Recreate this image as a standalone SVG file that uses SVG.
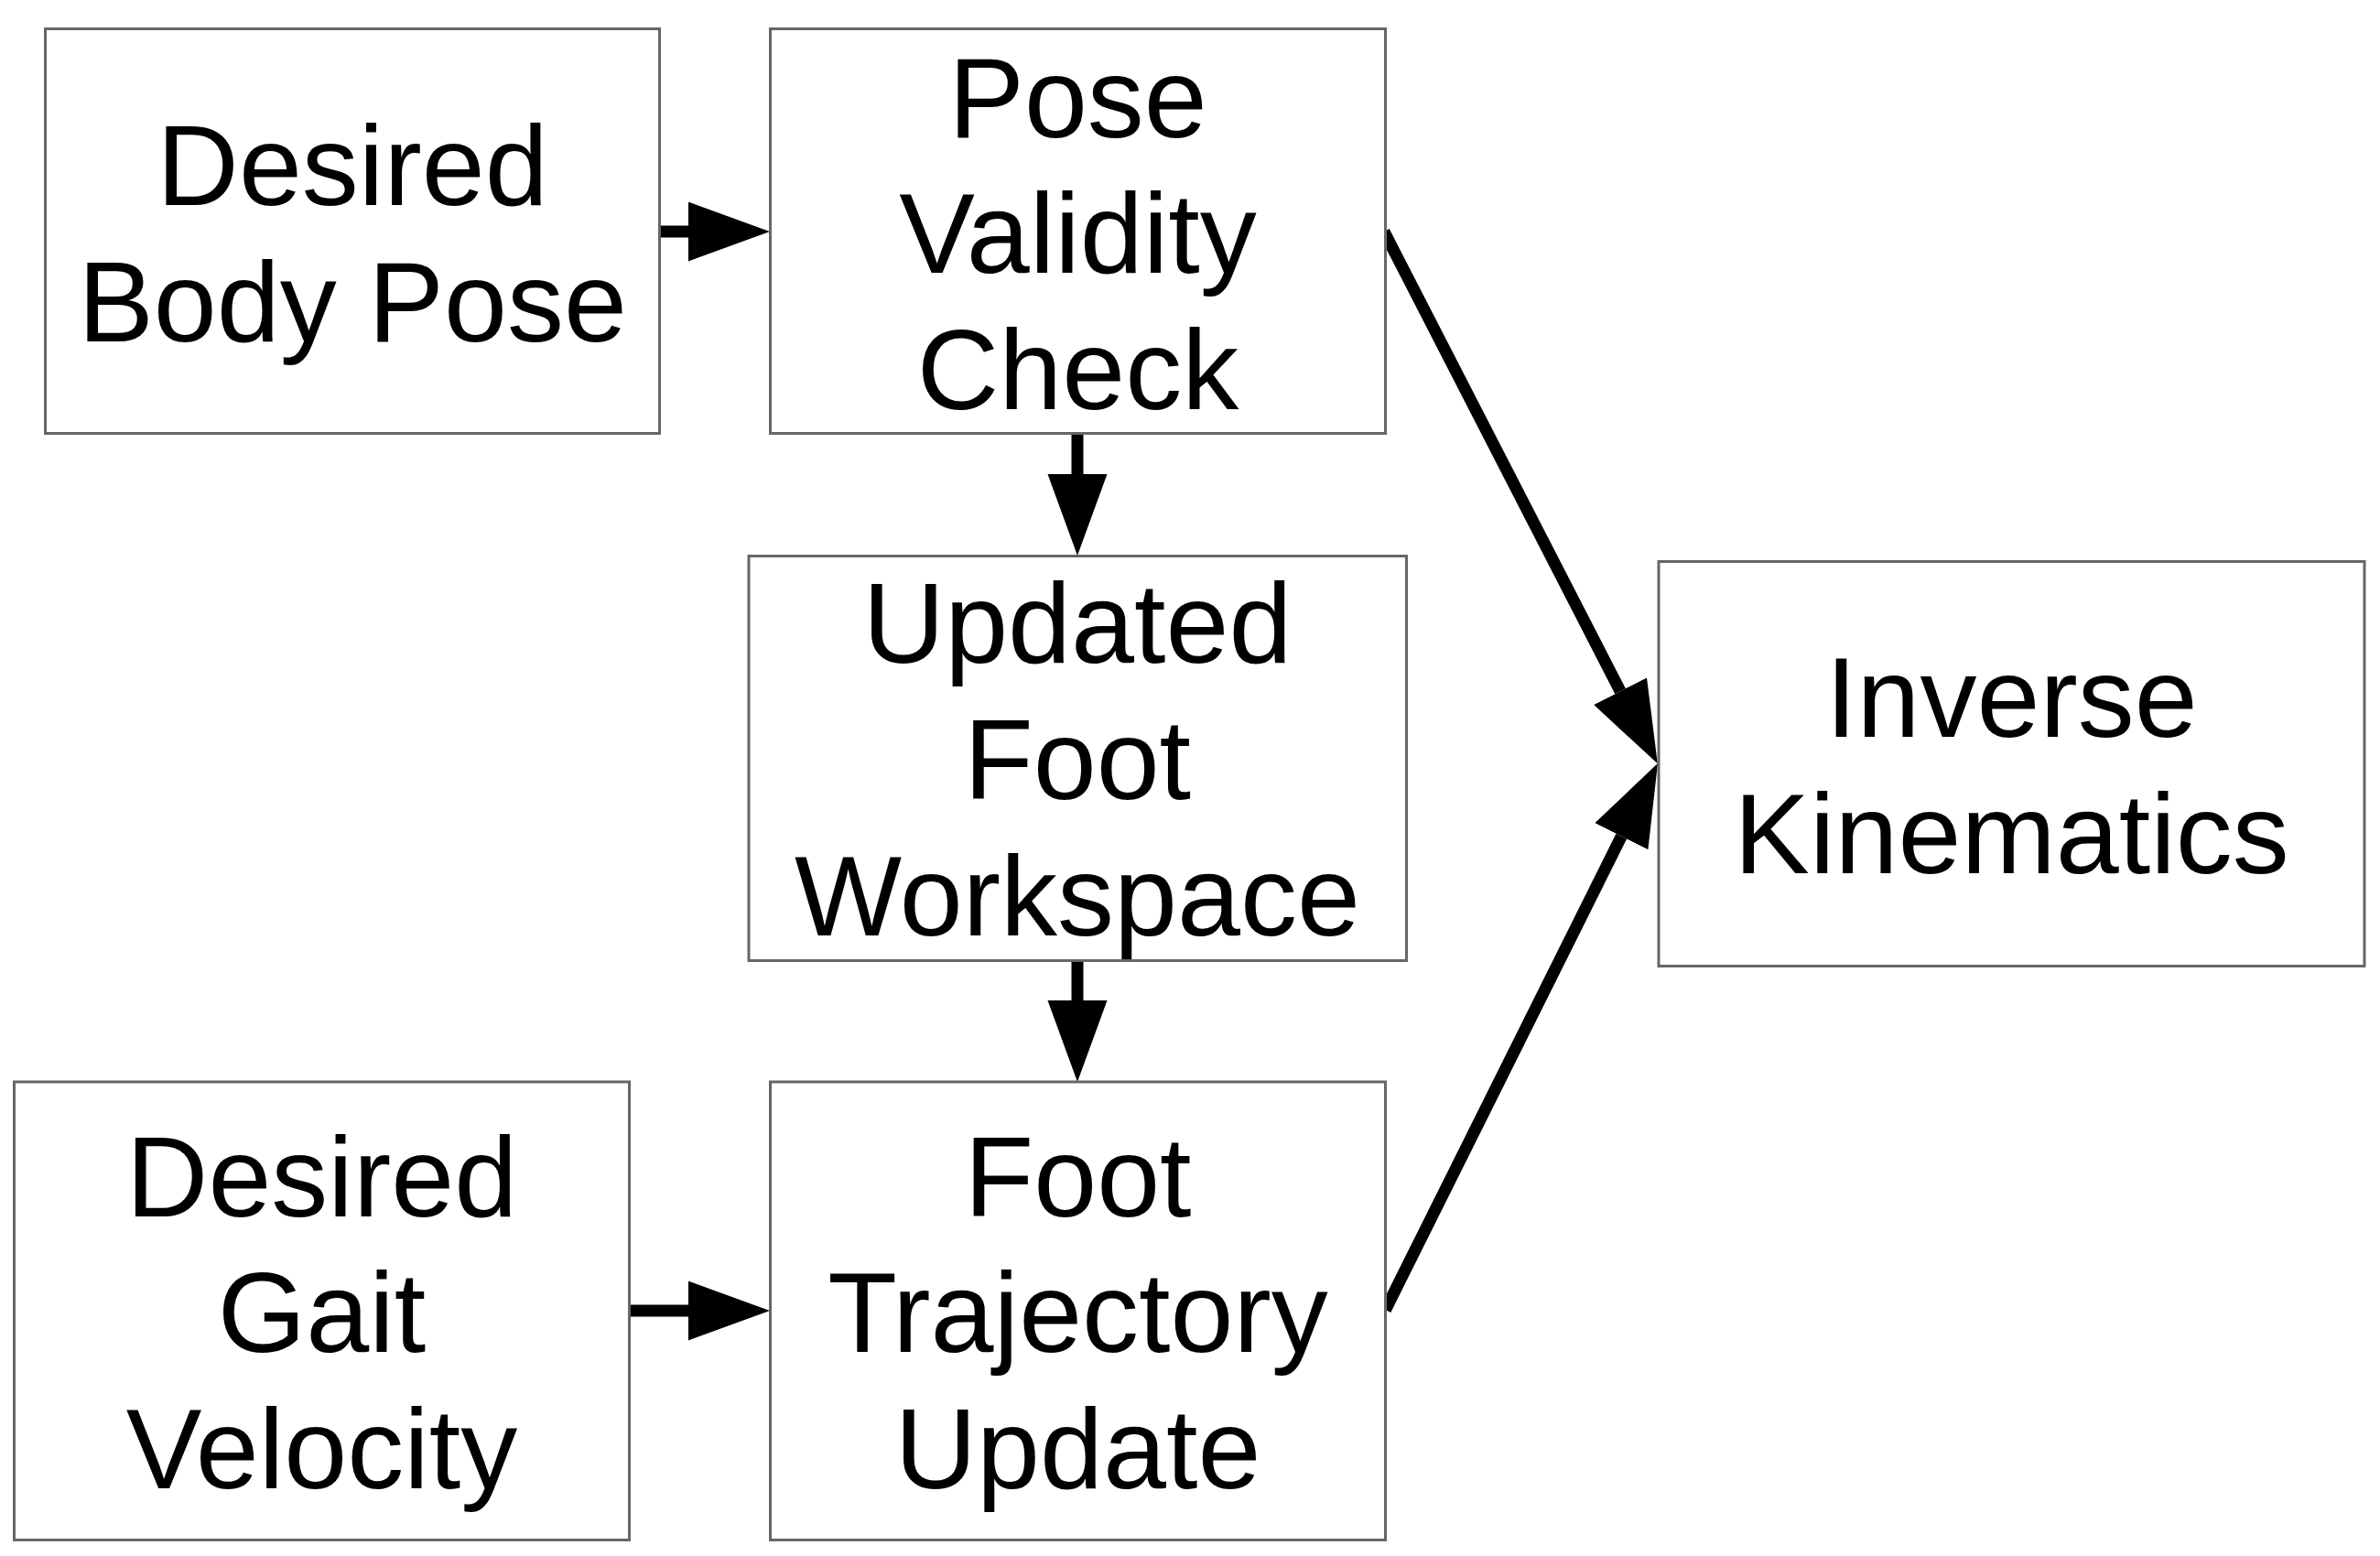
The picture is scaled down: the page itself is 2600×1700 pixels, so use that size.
<svg xmlns="http://www.w3.org/2000/svg" width="2600" height="1700" viewBox="0 0 2600 1700">
<style>
.box{fill:#fff;stroke:#666;stroke-width:3}
.lbl{font-family:"Liberation Sans",Arial,sans-serif;font-size:124px;fill:#000;text-anchor:middle}
.edge{stroke:#000;stroke-width:13;fill:none;marker-end:url(#ah)}
</style>
<defs>
<marker id="ah" markerUnits="userSpaceOnUse" markerWidth="90" markerHeight="66" refX="0" refY="32.5" orient="auto" viewBox="0 0 90 66">
<path d="M0,0 L89,32.5 L0,65 Z" fill="#000"/>
</marker>
</defs>
<rect width="2600" height="1700" fill="#fff"/>
<g id="connectors">
<line class="edge" x1="720" y1="253" x2="752" y2="253"/>
<line class="edge" x1="1177" y1="473" x2="1177" y2="518"/>
<line class="edge" x1="1177" y1="1050" x2="1177" y2="1093"/>
<line class="edge" x1="687" y1="1432" x2="752" y2="1432"/>
<line class="edge" x1="1512" y1="253" x2="1770.1" y2="755.2"/>
<line class="edge" x1="1513.5" y1="1431" x2="1771.3" y2="913.7"/>
</g>
<g id="desired-body-pose">
<rect class="box" x="49.5" y="31.5" width="671" height="442"/>
<text class="lbl" x="385" y="224">Desired</text>
<text class="lbl" x="385" y="372.7">Body Pose</text>
</g>
<g id="pose-validity-check">
<rect class="box" x="841.5" y="31.5" width="672" height="442"/>
<text class="lbl" x="1177.5" y="150">Pose</text>
<text class="lbl" x="1177.5" y="297.7">Validity</text>
<text class="lbl" x="1177.5" y="446.7">Check</text>
</g>
<g id="updated-foot-workspace">
<rect class="box" x="818" y="607.5" width="718.5" height="442"/>
<text class="lbl" x="1177" y="724.4">Updated</text>
<text class="lbl" x="1177" y="873">Foot</text>
<text class="lbl" x="1177" y="1021.7">Workspace</text>
</g>
<g id="inverse-kinematics">
<rect class="box" x="1812" y="613.5" width="771" height="442"/>
<text class="lbl" x="2197.5" y="804.6">Inverse</text>
<text class="lbl" x="2197.5" y="954">Kinematics</text>
</g>
<g id="desired-gait-velocity">
<rect class="box" x="15.5" y="1182" width="672" height="500.5"/>
<text class="lbl" x="351.5" y="1328.9">Desired</text>
<text class="lbl" x="351.5" y="1477">Gait</text>
<text class="lbl" x="351.5" y="1625.6">Velocity</text>
</g>
<g id="foot-trajectory-update">
<rect class="box" x="841.5" y="1182" width="672" height="500.5"/>
<text class="lbl" x="1177.5" y="1328.9">Foot</text>
<text class="lbl" x="1177.5" y="1477">Trajectory</text>
<text class="lbl" x="1177.5" y="1626.2">Update</text>
</g>
</svg>
